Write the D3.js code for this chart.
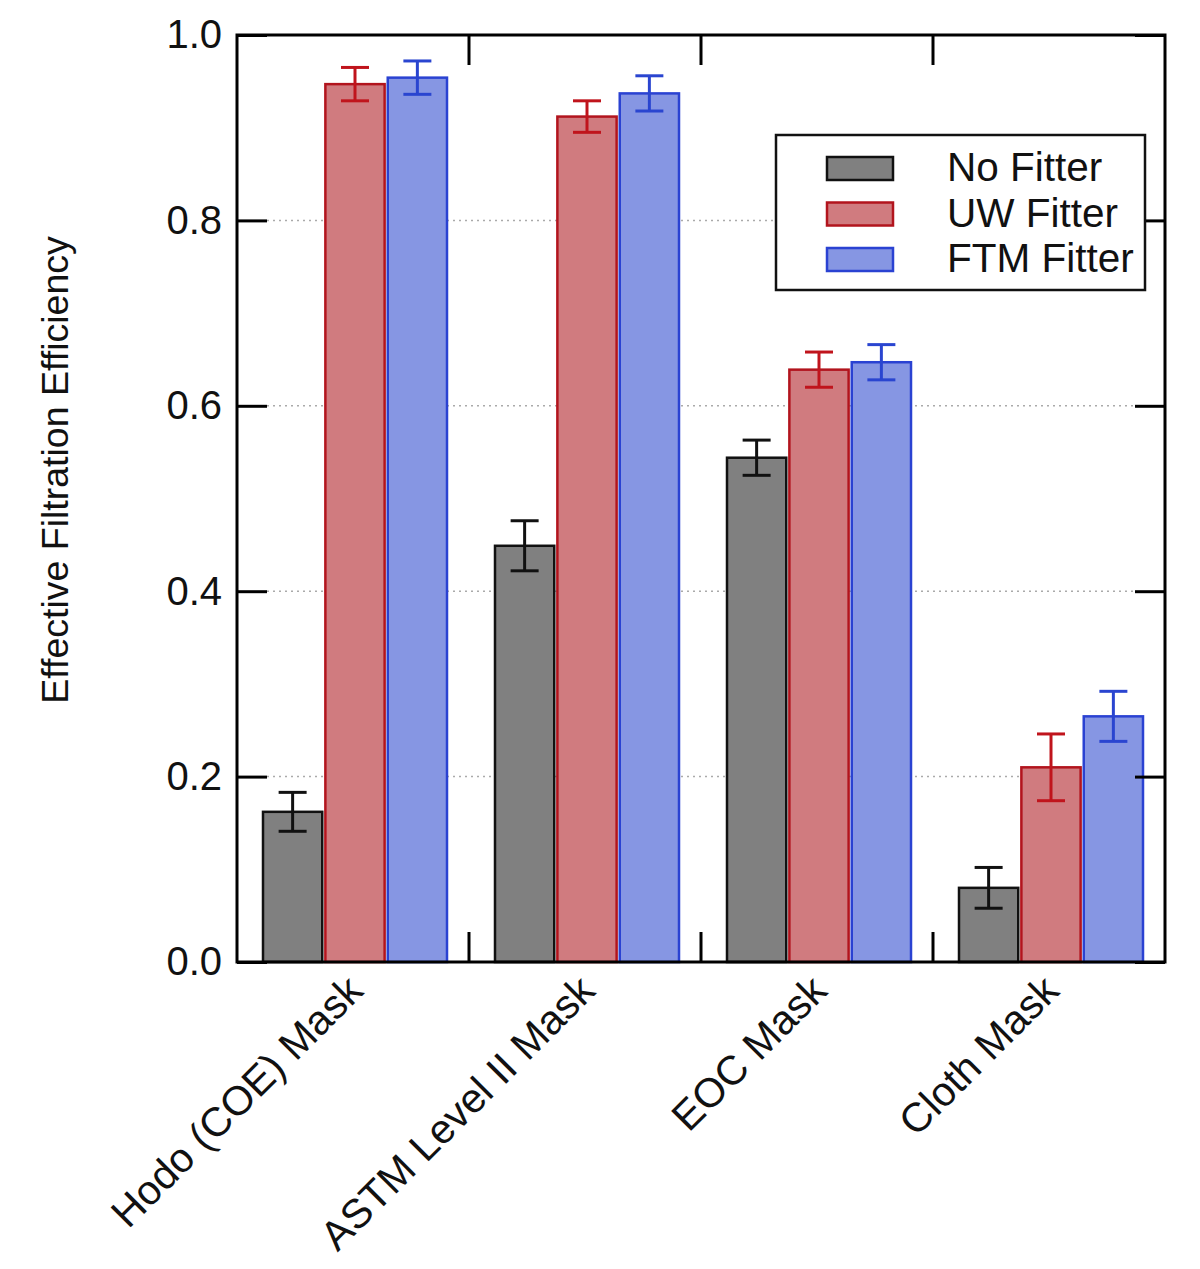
<!DOCTYPE html>
<html>
<head>
<meta charset="utf-8">
<script src="https://cdn.jsdelivr.net/npm/d3@7"></script>
<style>
  html, body { margin: 0; padding: 0; background: #fff; }
  svg { display: block; font-family: "Liberation Sans", Arial, Helvetica, sans-serif; }
</style>
</head>
<body>
<svg id="chart" width="1200" height="1269"></svg>
<script>
const categories = ["Hodo (COE) Mask", "ASTM Level II Mask", "EOC Mask", "Cloth Mask"];
const seriesNames = ["No Fitter", "UW Fitter", "FTM Fitter"];
const noFitter    = [0.162, 0.449, 0.544, 0.080];
const noFitterErr = [0.021, 0.027, 0.019, 0.022];
const uwFitter    = [0.947, 0.912, 0.639, 0.210];
const uwFitterErr = [0.018, 0.017, 0.019, 0.036];
const ftmFitter   = [0.954, 0.937, 0.647, 0.265];
const ftmFitterErr= [0.018, 0.019, 0.019, 0.027];
const yTicks = [0.0, 0.2, 0.4, 0.6, 0.8, 1.0];
const yTickLabels = ["0.0", "0.2", "0.4", "0.6", "0.8", "1.0"];

const seriesValues = [noFitter, uwFitter, ftmFitter];
const seriesErrors = [noFitterErr, uwFitterErr, ftmFitterErr];
const fills   = ["#808080", "#d07b7f", "#8696e3"];
const strokes = ["#111111", "#b2141d", "#2a42d2"];
const errCols = ["#111111", "#c0141c", "#2a45d0"];

const svg = d3.select("#chart");
const L = 237, R = 1165, T = 35, B = 962;

const x0 = d3.scaleBand().domain(categories).range([L, R]).padding(0);
const x1 = d3.scaleBand().domain(seriesNames).range([26, 210]).paddingInner(0.05).paddingOuter(0);
const y = d3.scaleLinear().domain([0, 1]).range([B, T]);

// gridlines
svg.append("g").selectAll("line").data(yTicks.filter(t => t > 0 && t < 1)).join("line")
  .attr("x1", L + 30).attr("x2", R - 30)
  .attr("y1", d => y(d)).attr("y2", d => y(d))
  .attr("stroke", "#aaaaaa").attr("stroke-width", 1.5).attr("stroke-dasharray", "2,4");

// bars
const rows = [];
categories.forEach((c, i) => seriesNames.forEach((s, j) => rows.push({c, s, j, v: seriesValues[j][i], e: seriesErrors[j][i]})));

svg.append("g").selectAll("rect").data(rows).join("rect")
  .attr("x", d => x0(d.c) + x1(d.s))
  .attr("y", d => y(d.v))
  .attr("width", x1.bandwidth())
  .attr("height", d => y(0) - y(d.v))
  .attr("fill", d => fills[d.j])
  .attr("stroke", d => strokes[d.j])
  .attr("stroke-width", 2.5);

// error bars
const eg = svg.append("g");
rows.forEach(d => {
  const cx = x0(d.c) + x1(d.s) + x1.bandwidth() / 2;
  const col = errCols[d.j];
  eg.append("line").attr("x1", cx).attr("x2", cx).attr("y1", y(d.v + d.e)).attr("y2", y(d.v - d.e))
    .attr("stroke", col).attr("stroke-width", 3);
  [d.v + d.e, d.v - d.e].forEach(v => {
    eg.append("line").attr("x1", cx - 14).attr("x2", cx + 14).attr("y1", y(v)).attr("y2", y(v))
      .attr("stroke", col).attr("stroke-width", 3);
  });
});

// axes: left (labels + inward ticks)
const yAxisL = d3.axisLeft(y).tickValues(yTicks).tickFormat((d, i) => yTickLabels[i]).tickSizeInner(-30).tickSizeOuter(0).tickPadding(15);
const gl = svg.append("g").attr("transform", `translate(${L},0)`).call(yAxisL);
gl.select(".domain").remove();
gl.selectAll(".tick line").attr("stroke", "#000").attr("stroke-width", 3);
gl.selectAll(".tick text").attr("font-size", 40).attr("fill", "#111").attr("font-family", "Liberation Sans, Arial, sans-serif");

const yAxisR = d3.axisRight(y).tickValues(yTicks).tickFormat("").tickSizeInner(-30).tickSizeOuter(0);
const gr = svg.append("g").attr("transform", `translate(${R},0)`).call(yAxisR);
gr.select(".domain").remove();
gr.selectAll(".tick line").attr("stroke", "#000").attr("stroke-width", 3);

// category boundary ticks (top and bottom)
const bounds = categories.slice(1).map(c => x0(c));
const bt = svg.append("g");
bounds.forEach(bx => {
  bt.append("line").attr("x1", bx).attr("x2", bx).attr("y1", B).attr("y2", B - 30).attr("stroke", "#000").attr("stroke-width", 3);
  bt.append("line").attr("x1", bx).attr("x2", bx).attr("y1", T).attr("y2", T + 30).attr("stroke", "#000").attr("stroke-width", 3);
});

// frame
svg.append("rect").attr("x", L).attr("y", T).attr("width", R - L).attr("height", B - T)
  .attr("fill", "none").attr("stroke", "#000").attr("stroke-width", 3);

// x labels
svg.append("g").selectAll("text").data(categories).join("text")
  .attr("transform", d => `translate(${x0(d) + x0.bandwidth() / 2 + 12},${B + 31}) rotate(-45)`)
  .attr("text-anchor", "end")
  .attr("font-size", 41)
  .attr("fill", "#111")
  .text(d => d);

// y title
svg.append("text")
  .attr("transform", "translate(68,470) rotate(-90)")
  .attr("text-anchor", "middle")
  .attr("font-size", 37.5)
  .attr("fill", "#111")
  .text("Effective Filtration Efficiency");

// legend
const lg = svg.append("g");
lg.append("rect").attr("x", 776).attr("y", 135).attr("width", 369).attr("height", 155)
  .attr("fill", "#fff").attr("stroke", "#111").attr("stroke-width", 2.5);
seriesNames.forEach((s, j) => {
  const yy = 157 + j * 45.5;
  lg.append("rect").attr("x", 827).attr("y", yy).attr("width", 66).attr("height", 23)
    .attr("fill", fills[j]).attr("stroke", strokes[j]).attr("stroke-width", 2.5);
  lg.append("text").attr("x", 947).attr("y", yy + 24).attr("font-size", 40.5).attr("fill", "#111").text(s);
});
</script>
</body>
</html>
